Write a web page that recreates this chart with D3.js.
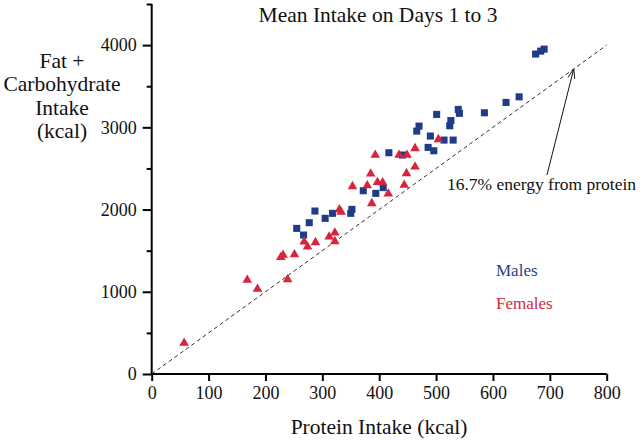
<!DOCTYPE html>
<html><head><meta charset="utf-8">
<script src="https://cdn.jsdelivr.net/npm/d3@7/dist/d3.min.js"></script>
<style>
html,body{margin:0;padding:0;background:#fff;}
svg{display:block;}
svg text{font-family:"Liberation Serif","Times New Roman",serif !important;}
</style></head>
<body>
<svg id="chart" width="640" height="442"></svg>
<script>
// ---- data ----
const title = "Mean Intake on Days 1 to 3";
const xLabel = "Protein Intake (kcal)";
const yLabelLines = ["Fat +", "Carbohydrate", "Intake", "(kcal)"];
const xTicks = [0, 100, 200, 300, 400, 500, 600, 700, 800];
const yTicks = [0, 1000, 2000, 3000, 4000];
const yMinorTicks = [500, 1500, 2500, 3500, 4500];
const seriesNames = ["Males", "Females"];

const malesProtein = [255, 267, 277, 287, 305, 318, 350, 352, 372, 394, 407, 417, 441, 466, 470, 486, 490, 496, 501, 514, 530, 524, 526, 539, 541, 585, 623, 646, 675, 684, 690];
const malesFatCarb = [1771, 1690, 1840, 1982, 1893, 1954, 1954, 2002, 2229, 2197, 2267, 2691, 2663, 2954, 3015, 2756, 2894, 2715, 3157, 2845, 2845, 3019, 3082, 3218, 3170, 3177, 3303, 3371, 3891, 3927, 3951];

const femalesProtein = [57, 168, 186, 239, 227, 231, 251, 268, 274, 288, 312, 322, 322, 330, 333, 387, 353, 379, 385, 393, 397, 406, 416, 435, 449, 448, 444, 463, 463, 504];
const femalesFatCarb = [377, 1143, 1033, 1151, 1419, 1447, 1453, 1609, 1548, 1601, 1669, 1718, 1613, 2000, 1970, 2075, 2282, 2292, 2435, 2663, 2331, 2328, 2192, 2663, 2663, 2440, 2298, 2744, 2520, 2853];

const refRatio = 5;              // 16.7% energy from protein -> fat+carb = 5 x protein
const refLineX = [0, 800];
const annotationText = "16.7% energy from protein";
const arrowTipX = 742;           // point on reference line
const arrowTail = [695, 2420];
const annotationPos = [519, 2237];

// ---- layout ----
const FONT = "Liberation Serif, Times New Roman, serif";
const svg = d3.select("#chart");
const x = d3.scaleLinear().domain([0, 800]).range([151.7, 606.7]);
const y = d3.scaleLinear().domain([0, 4500]).range([374, 4]);
const maleColor = "#1f3c88", femaleColor = "#d8253b";

// reference dashed line
svg.append("line")
  .attr("x1", x(refLineX[0])).attr("y1", y(refLineX[0] * refRatio))
  .attr("x2", x(refLineX[1])).attr("y2", y(refLineX[1] * refRatio))
  .attr("stroke", "#333").attr("stroke-width", 1).attr("stroke-dasharray", "4,3");

// axes
const xAxis = svg.append("g").attr("transform", "translate(0,374)")
  .call(d3.axisBottom(x).tickValues(xTicks).tickSize(7).tickPadding(5).tickFormat(d3.format("d")));
const yAxis = svg.append("g").attr("transform", "translate(151.7,0)")
  .call(d3.axisLeft(y).tickValues(yTicks).tickSize(9).tickPadding(6).tickFormat(d3.format("d")));
const yMinor = svg.append("g").attr("transform", "translate(151.7,0)")
  .call(d3.axisLeft(y).tickValues(yMinorTicks).tickSize(5).tickFormat(""));
yMinor.select(".domain").remove();
[xAxis, yAxis, yMinor].forEach(g => {
  g.attr("font-family", FONT).attr("font-size", 18);
  g.selectAll(".domain").attr("stroke", "#000").attr("stroke-width", 2);
  g.selectAll(".tick line").attr("stroke", "#000").attr("stroke-width", 2);
  g.selectAll(".tick text").attr("fill", "#111");
});
yAxis.select(".domain").attr("d", `M0,${y(4500)}V${y(0) + 1}`);
xAxis.select(".domain").attr("d", `M${x(0) - 1},0H${x(800)}`);

// points
const sq = d3.symbol().type(d3.symbolSquare).size(50);
const tri = d3.symbol().type(d3.symbolTriangle).size(40);
svg.append("g").selectAll("path").data(malesProtein.map((p, i) => [p, malesFatCarb[i]]))
  .join("path").attr("d", sq)
  .attr("transform", d => `translate(${x(d[0])},${y(d[1])})`)
  .attr("fill", maleColor);
svg.append("g").selectAll("path").data(femalesProtein.map((p, i) => [p, femalesFatCarb[i]]))
  .join("path").attr("d", tri)
  .attr("transform", d => `translate(${x(d[0])},${y(d[1])})`)
  .attr("fill", femaleColor);

// annotation arrow
const tipX = x(arrowTipX), tipY = y(arrowTipX * refRatio);
const tailX = x(arrowTail[0]), tailY = y(arrowTail[1]);
svg.append("line").attr("x1", tailX).attr("y1", tailY).attr("x2", tipX).attr("y2", tipY)
  .attr("stroke", "#111").attr("stroke-width", 1);
const ang = Math.atan2(tailY - tipY, tailX - tipX);
[-0.35, 0.35].forEach(da => {
  svg.append("line").attr("x1", tipX).attr("y1", tipY)
    .attr("x2", tipX + 10 * Math.cos(ang + da)).attr("y2", tipY + 10 * Math.sin(ang + da))
    .attr("stroke", "#111").attr("stroke-width", 1);
});
svg.append("text").attr("x", x(annotationPos[0])).attr("y", y(annotationPos[1]))
  .attr("font-family", FONT).attr("font-size", "17.5px").attr("fill", "#111").text(annotationText);

// title and labels
svg.append("text").attr("x", 378).attr("y", 22).attr("text-anchor", "middle")
  .attr("font-family", FONT).attr("font-size", "21.5px").attr("fill", "#111").text(title);
svg.append("text").attr("x", 379).attr("y", 434).attr("text-anchor", "middle")
  .attr("font-family", FONT).attr("font-size", "21.5px").attr("fill", "#111").text(xLabel);
const yl = svg.append("text").attr("text-anchor", "middle").attr("font-family", FONT)
  .attr("font-size", "21.5px").attr("fill", "#111");
yLabelLines.forEach((t, i) => {
  yl.append("tspan").attr("x", 62).attr("y", 68 + i * 23.4).text(t);
});

// legend
svg.append("text").attr("x", 496).attr("y", 276).attr("font-family", FONT).attr("font-size", "17px").attr("fill", "#2a3f80").text(seriesNames[0]);
svg.append("text").attr("x", 496).attr("y", 309).attr("font-family", FONT).attr("font-size", "17px").attr("fill", "#d3283c").text(seriesNames[1]);
</script>
</body></html>
